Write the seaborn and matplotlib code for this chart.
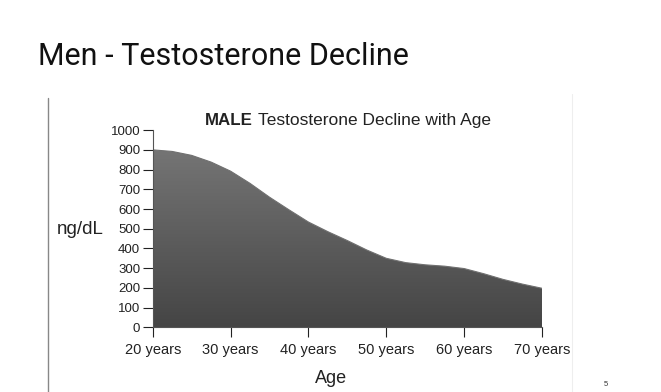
import numpy as np
import matplotlib.pyplot as plt
import matplotlib.colors as mcolors
import pandas as pd
import seaborn as sns

# values (ng/dL by age)
ages = [20, 22.5, 25, 27.5, 30, 32.5, 35, 37.5, 40, 42.5, 45,
        47.5, 50, 52.5, 55, 57.5, 60, 62.5, 65, 67.5, 70]
levels = [900, 892, 872, 838, 792, 730, 660, 596, 534, 485, 440,
          392, 350, 328, 317, 310, 298, 272, 243, 219, 198]
tick_ages = [20, 30, 40, 50, 60, 70]
tick_labels = ["20 years", "30 years", "40 years", "50 years", "60 years", "70 years"]
y_ticks = list(range(0, 1001, 100))

df = pd.DataFrame({"age": ages, "level": levels})

sns.set_theme(style="ticks")
plt.rcParams["font.family"] = ["Liberation Sans", "DejaVu Sans"]

fig = plt.figure(figsize=(6.61, 3.92), dpi=100)
ax = fig.add_axes([0.231, 0.165, 0.589, 0.503])

# area with a vertical grey gradient
poly = ax.fill_between(df["age"], df["level"], 0, color="none", lw=0)
cmap = mcolors.LinearSegmentedColormap.from_list("g", ["#7a7a7a", "#454545"])
grad = np.linspace(0, 1, 256).reshape(-1, 1)
img = ax.imshow(grad, cmap=cmap, aspect="auto", extent=[20, 70, 0, 1000],
                origin="upper", zorder=1)
img.set_clip_path(poly.get_paths()[0], transform=ax.transData)
sns.lineplot(data=df, x="age", y="level", ax=ax, color="#707070", lw=0.8, zorder=2)

ax.set_xlim(20, 70)
ax.set_ylim(0, 1000)
ax.set_xticks(tick_ages)
ax.set_xticklabels(tick_labels)
ax.set_yticks(y_ticks)
ax.tick_params(axis="both", labelsize=9.5, colors="#222222", length=7, width=0.8,
               direction="out", pad=2)
ax.tick_params(axis="x", labelsize=10.5, pad=4)
for lab in ax.get_xticklabels() + ax.get_yticklabels():
    lab.set_fontweight("medium")
for side in ["left", "bottom"]:
    ax.spines[side].set_color("#555555")
    ax.spines[side].set_linewidth(0.8)
sns.despine(ax=ax)
ax.set_xlabel("")
ax.set_ylabel("")

# chart heading, part bold
fig.text(0.310, 0.681, "MALE", fontsize=12.2, fontweight="bold", color="#222222")
fig.text(0.391, 0.681, "Testosterone Decline with Age", fontsize=12.55, color="#222222")

fig.text(0.086, 0.415, "ng/dL", fontsize=13.5, color="#222222", va="center")
fig.text(0.501, 0.023, "Age", fontsize=13, color="#222222", ha="center", va="baseline")

# slide title and page number
fig.text(0.058, 0.834, "Men - Testosterone Decline", fontsize=22, va="baseline",
         family=["Roboto", "Liberation Sans"], color="#111111")
fig.text(0.913, 0.015, "5", fontsize=5.5, color="#333333")

# slide frame lines
fig.add_artist(plt.Line2D([0.073, 0.073], [0.0, 0.75], color="#888888", lw=1.0))
fig.add_artist(plt.Line2D([0.866, 0.866], [0.0, 0.76], color="#eeeeee", lw=0.8))

fig.savefig("out.png", dpi=100)
